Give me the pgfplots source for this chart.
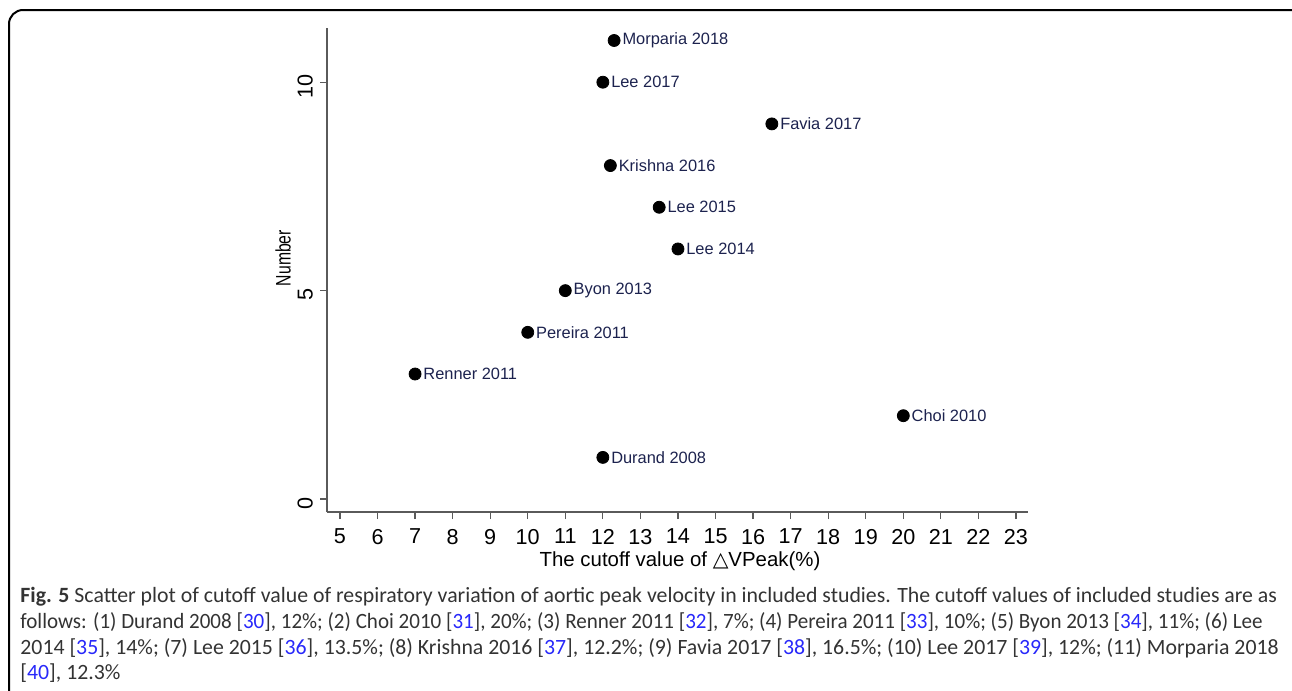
\documentclass[border=0pt]{standalone}
\usepackage{fontspec}
\usepackage{pgfplots}
\pgfplotsset{compat=1.18}
\setmainfont{Liberation Sans}
\newfontfamily\capfont{Carlito}
\newfontfamily\symfont{DejaVu Sans}
\definecolor{lab}{RGB}{28,34,78}
\definecolor{axgray}{RGB}{90,90,90}
\definecolor{linkblue}{RGB}{40,40,250}
\newcommand{\lk}[1]{\textcolor{linkblue}{#1}}
\begin{document}
\begin{tikzpicture}
\useasboundingbox (0pt,0pt) rectangle (646pt,-345.5pt);
\clip (0pt,0pt) rectangle (646pt,-345.5pt);
\begin{scope}[x=0.5pt,y=0.5pt]
\draw[line width=1pt, rounded corners=7pt] (9,-720) -- (9,-10) -- (1310,-10) -- (1310,-720);
\end{scope}
\begin{axis}[
  at={(163.5pt,-256pt)}, anchor=south west,
  scale only axis, width=350.5pt, height=242pt,
  xmin=4.655, xmax=23.32, ymin=-0.31, ymax=11.3,
  axis lines=left, axis line style={-, axgray, line width=0.75pt},
  xtick={5,6,...,23}, ytick={0,5,10},
  tick align=outside, major tick length=3.5pt,
  tick style={axgray, line width=0.6pt},
  xticklabel style={font=\fontsize{10.8}{12}\selectfont, yshift=-1.5pt},
  yticklabel style={font=\fontsize{10.8}{12}\selectfont, rotate=90, anchor=south, xshift=-2pt},
  /pgf/number format/assume math mode=true,
  clip=false,
  point meta=explicit symbolic,
  nodes near coords,
  every node near coord/.append style={anchor=west, inner sep=0pt, xshift=4pt, yshift=0pt, text=lab, font=\fontsize{8.2}{10}\selectfont},
]
\addplot[only marks, mark=*, mark size=3pt, black] coordinates {
(12,1) [Durand 2008]
(20,2) [Choi 2010]
(7,3) [Renner 2011]
(10,4) [Pereira 2011]
(11,5) [Byon 2013]
(14,6) [Lee 2014]
(13.5,7) [Lee 2015]
(12.2,8) [Krishna 2016]
(16.5,9) [Favia 2017]
(12,10) [Lee 2017]
(12.3,11) [Morparia 2018]
};
\end{axis}
\begin{scope}[x=0.5pt,y=0.5pt]
\node[rotate=90, xscale=0.75, font=\fontsize{10.5}{12}\selectfont] at (283,-258) {Number};
\node[font=\fontsize{10.2}{12}\selectfont] at (680,-561) {The cutoff value of {\symfont △}VPeak(\%)};
\begin{scope}[every node/.style={anchor=base west, inner sep=0pt, font=\capfont\fontsize{10.9}{12}\selectfont, text=black!80}]
\node at (20,-602) {\textbf{Fig. 5} Scatter plot of cutoff value of respiratory variation of aortic peak velocity in included studies. The cutoff values of included studies are as};
\node[xscale=0.965] at (20,-628) {follows: (1) Durand 2008 [\lk{30}], 12\%; (2) Choi 2010 [\lk{31}], 20\%; (3) Renner 2011 [\lk{32}], 7\%; (4) Pereira 2011 [\lk{33}], 10\%; (5) Byon 2013 [\lk{34}], 11\%; (6) Lee};
\node at (20,-654) {2014 [\lk{35}], 14\%; (7) Lee 2015 [\lk{36}], 13.5\%; (8) Krishna 2016 [\lk{37}], 12.2\%; (9) Favia 2017 [\lk{38}], 16.5\%; (10) Lee 2017 [\lk{39}], 12\%; (11) Morparia 2018};
\node at (20,-679) {[\lk{40}], 12.3\%};
\end{scope}
\end{scope}
\end{tikzpicture}
\end{document}
